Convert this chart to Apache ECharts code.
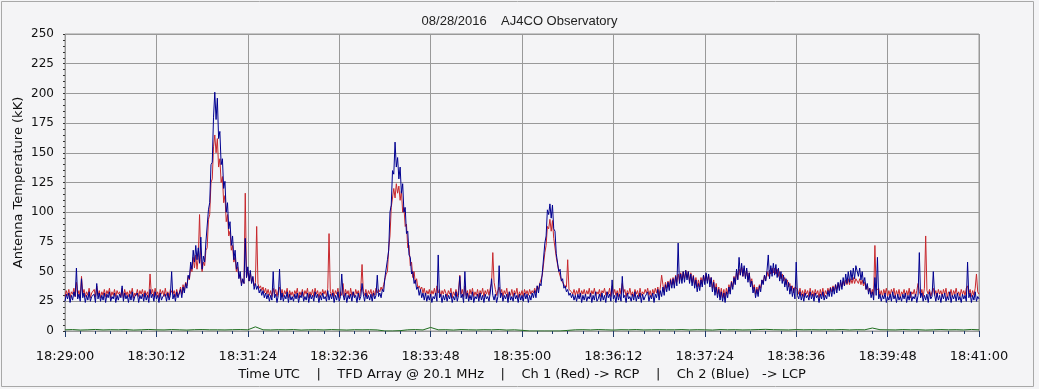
<!DOCTYPE html>
<html>
<head>
<meta charset="utf-8">
<script src="https://cdn.jsdelivr.net/npm/echarts@6/dist/echarts.min.js"></script>
<style>
html,body{margin:0;padding:0;background:#f4f4f6;}
#chart{width:1039px;height:389px;}
</style>
</head>
<body>
<div id="chart"></div>
<script>
// seconds after 18:29:00, one sample every 1 s (red/blue), every 6 s (green)
var sampleStep = 1;
var greenStep = 6;
var xTickLabels = ['18:29:00','18:30:12','18:31:24','18:32:36','18:33:48','18:35:00','18:36:12','18:37:24','18:38:36','18:39:48','18:41:00'];

var ch2Blue = [
25,31,27,32,24,30,26,33,29,53,27,31,25,44,28,32,24,30,26,33,25,29,28,31,24,40,27,32,25,30,
26,32,24,31,28,33,25,29,27,32,24,30,26,31,28,38,25,32,27,30,24,31,26,33,25,29,28,32,24,30,
27,31,25,32,26,30,24,35,28,31,25,33,27,30,24,32,26,29,28,31,25,32,26,30,50,27,31,25,33,28,
29,35,28,37,32,40,36,47,44,58,52,68,58,72,60,70,57,79,52,63,58,75,74,102,108,140,142,180,201,178,
196,162,168,140,145,120,126,100,108,86,92,72,80,60,68,52,58,44,50,38,44,40,78,45,54,42,51,40,46,35,
40,35,38,32,35,30,34,28,32,27,31,25,30,26,50,28,31,24,30,52,26,32,25,30,27,33,24,31,26,29,
25,31,27,32,24,30,28,33,25,29,26,32,24,31,27,30,25,33,28,31,24,30,26,32,27,29,25,34,26,31,
27,32,24,30,26,33,25,29,48,31,26,32,24,30,27,31,25,33,28,30,24,32,26,29,40,31,25,32,27,30,
26,31,25,32,27,30,47,29,32,28,35,33,45,46,60,68,100,106,135,132,159,138,146,128,138,116,124,100,104,82,
84,64,62,48,50,40,43,35,37,30,35,28,32,26,32,25,30,26,31,24,29,27,32,25,64,28,31,24,30,26,
31,25,30,27,32,24,29,26,33,25,30,46,28,31,24,50,27,32,25,30,26,33,24,29,27,31,25,32,26,30,
24,31,27,29,25,32,44,30,26,31,24,29,55,28,32,25,30,27,31,24,33,26,29,25,32,27,30,24,31,26,
30,25,32,27,31,24,30,26,32,28,34,28,38,32,40,38,49,50,74,80,102,98,107,95,106,86,84,65,66,50,
52,42,44,36,38,33,35,30,32,28,31,26,30,25,31,27,32,24,30,26,31,25,29,27,32,24,30,26,33,25,
27,31,25,32,26,30,24,33,28,31,25,43,27,30,24,32,26,31,25,46,28,30,24,32,27,29,25,31,26,33,
25,30,27,32,24,31,26,29,28,33,25,30,27,32,24,31,28,35,26,34,29,37,30,39,33,41,34,43,36,44,
36,46,38,74,40,48,40,50,41,51,43,50,40,48,38,46,36,43,33,40,34,43,37,47,39,49,40,48,37,45,
33,41,30,37,28,35,26,33,25,32,24,33,28,37,31,41,35,45,39,52,43,62,47,57,46,55,44,53,41,49,
37,42,32,37,28,35,29,38,33,43,39,47,42,51,64,44,55,46,57,47,56,45,53,42,50,40,47,37,44,34,
41,31,38,29,36,27,58,30,27,33,26,31,25,32,28,30,26,33,27,31,25,32,28,30,24,31,27,33,26,30,
27,34,29,36,29,37,31,39,32,41,34,43,35,45,38,48,40,50,41,51,43,53,44,55,56,46,53,43,50,40,
45,35,40,31,36,28,33,26,45,30,62,27,31,25,30,27,32,24,29,26,31,25,33,27,30,24,31,26,29,25,
31,27,32,24,30,26,33,25,29,27,31,24,30,66,28,32,25,30,26,31,24,33,27,29,50,31,25,32,26,30,
24,31,27,32,25,29,26,33,24,30,27,31,25,32,26,29,24,31,27,30,25,58,28,32,24,30,26,33,25,29,
27];

var ch1Red = [
29,34,30,35,28,33,31,36,29,41,30,34,28,46,31,35,29,33,30,36,28,32,31,35,29,38,30,34,28,33,
30,35,29,34,31,36,28,33,30,35,29,34,31,33,29,36,28,35,30,33,29,34,31,36,28,32,30,35,29,34,
31,35,29,34,30,33,28,48,31,35,29,36,30,33,28,35,31,34,29,36,30,33,28,35,36,31,34,29,35,30,
32,37,31,39,34,41,38,46,43,54,50,62,53,64,52,62,98,60,50,58,55,68,70,94,98,125,128,155,165,150,
162,138,145,125,130,108,114,92,98,80,84,68,72,58,62,50,54,45,47,40,43,40,116,45,51,42,49,41,45,38,
41,88,40,36,38,34,37,32,36,31,35,30,34,29,36,31,35,29,34,37,30,35,29,34,31,36,28,34,30,33,
29,34,31,36,28,33,30,35,29,34,31,36,28,33,30,35,29,36,31,34,28,33,30,35,31,34,29,36,82,33,
30,35,29,34,31,36,28,33,30,40,29,35,31,34,28,36,30,33,29,35,31,34,28,36,56,33,30,35,29,34,
31,35,29,34,30,36,32,35,33,37,34,39,40,48,50,70,80,104,104,120,112,124,116,122,110,118,100,104,88,90,
70,72,55,58,45,50,40,44,36,38,35,37,32,36,30,34,31,35,29,34,31,36,30,38,32,35,29,34,31,35,
35,29,34,31,36,28,33,30,35,29,34,47,31,35,29,38,30,34,28,35,31,36,29,33,30,35,28,34,31,36,
29,34,31,35,30,36,40,66,41,35,30,34,37,31,35,29,34,31,36,28,33,30,35,29,34,31,36,28,33,30,
34,29,35,31,34,30,35,31,34,32,36,32,38,35,40,39,47,48,66,72,88,86,94,84,93,78,78,62,61,50,
49,43,44,39,40,37,60,35,35,33,31,35,30,34,31,36,29,34,31,35,30,34,31,36,29,34,31,36,30,33,
31,35,29,34,32,36,30,33,31,36,29,38,31,35,30,34,29,36,31,40,32,35,29,34,31,36,30,33,29,35,
31,34,29,36,30,33,31,35,32,36,30,34,29,35,31,36,32,37,30,37,47,39,33,41,36,42,37,44,39,45,
39,47,41,48,42,49,43,50,44,51,45,50,42,49,41,47,39,45,37,43,37,45,40,47,42,48,42,47,40,45,
36,43,33,40,31,37,29,36,28,35,28,36,31,39,34,42,37,46,40,50,44,52,47,54,46,53,45,51,43,49,
40,44,35,39,31,37,32,39,36,43,40,47,43,50,46,51,48,53,49,53,48,52,46,50,44,48,42,45,39,43,
37,40,34,38,32,37,38,35,31,36,30,34,29,35,31,34,29,36,30,34,29,35,31,34,28,35,30,36,29,34,
31,36,32,37,33,38,34,39,35,40,36,41,37,42,38,43,39,44,39,44,40,45,40,44,45,40,44,39,43,38,
41,35,39,33,36,31,35,30,72,34,33,36,30,34,29,35,31,36,29,34,30,35,31,36,29,34,30,35,28,33,
31,35,29,34,30,36,28,33,31,35,29,34,40,33,30,35,29,36,80,34,31,35,29,33,36,30,34,29,35,31,
34,29,35,31,36,28,33,30,35,29,34,31,36,30,33,29,35,31,34,30,36,38,31,35,29,34,30,36,48,33,
31];

var ch3Green = [
1,1.2,0.8,1,1.3,0.9,1.1,1,1.2,0.8,1,1.3,1,0.9,1.2,1,0.8,1.1,1.2,1,
1,0.9,1.1,1.2,1,3.5,1,0.9,1.1,1,1.2,0.8,1,1.1,0.9,1.2,1,0.8,1.1,1,
1.1,0.9,0,0,0.3,1,1.2,0.9,3,1,1.1,0.8,1.2,1,0.9,1.1,1,1.2,0.8,1,
0.6,0,0,0,0,0,0.5,1,1.1,0.9,1.2,1,0.8,1.1,1,1.2,0.9,1,1.1,1,
1,1.2,0.9,1.1,1,0.8,1.2,1,1.1,0.9,1,1.2,1.4,1.1,1,0.9,1.2,1,1.1,1,
1.1,1,1.2,0.9,1.1,1,2.5,1.1,1,0.9,1.2,1,1.1,0.8,1,1.2,1,1.1,0.9,1.3,
1];

function pairs(arr, step){ return arr.map(function(v,i){ return [i*step, v]; }); }

var chart = echarts.init(document.getElementById('chart'));
var font = 'DejaVu Sans';
chart.setOption({
  animation: false,
  backgroundColor: '#f4f4f6',
  title: {
    text: '08/28/2016    AJ4CO Observatory',
    left: 'center', top: 10,
    textStyle: {fontFamily: 'Liberation Sans', fontSize: 13, fontWeight: 'normal', color: '#222'}
  },
  graphic: [{type:'rect', shape:{x:1.5,y:1.5,width:1032,height:385}, style:{fill:'none', stroke:'#a8a8a8', lineWidth:1}, silent:true}],
  grid: {left: 65, right: 60, top: 34, bottom: 58, show: true, borderColor: '#999', borderWidth: 1, backgroundColor: 'transparent'},
  xAxis: {
    type: 'value', min: 0, max: 720, interval: 72, offset: 5,
    name: 'Time UTC    |    TFD Array @ 20.1 MHz    |    Ch 1 (Red) -> RCP    |    Ch 2 (Blue)   -> LCP',
    nameLocation: 'middle', nameGap: 29,
    nameTextStyle: {fontFamily: font, fontSize: 13, color: '#111'},
    axisLine: {show: false},
    axisTick: {show: true, length: 6, lineStyle: {color: '#1f3a6b'}},
    minorTick: {show: true, splitNumber: 6, length: 3, lineStyle: {color: '#1f3a6b'}},
    splitLine: {show: true, lineStyle: {color: '#999', width: 1}},
    axisLabel: {margin: 14, fontFamily: font, fontSize: 13, color: '#111', showMinLabel: true, showMaxLabel: true,
      formatter: function(v){ return xTickLabels[Math.round(v/72)]; }}
  },
  yAxis: {
    type: 'value', min: 0, max: 250, interval: 25, offset: 5,
    name: 'Antenna Temperature (kK)', nameLocation: 'middle', nameGap: 35, nameMoveOverlap: false,
    nameTextStyle: {fontFamily: font, fontSize: 13, color: '#111'},
    axisLine: {show: false},
    axisTick: {show: true, length: 2, lineStyle: {color: '#333'}},
    minorTick: {show: true, splitNumber: 5, length: 2, lineStyle: {color: '#333'}},
    splitLine: {show: true, lineStyle: {color: '#999', width: 1}},
    axisLabel: {margin: 6, fontFamily: font, fontSize: 12, color: '#111'}
  },
  series: [
    {name: 'Ch 3', type: 'line', data: pairs(ch3Green, greenStep), showSymbol: false, z: 1,
     lineStyle: {color: '#1e6e1e', width: 1}},
    {name: 'Ch 1 (Red)', type: 'line', data: pairs(ch1Red, sampleStep), showSymbol: false, z: 2,
     lineStyle: {color: '#c8282d', width: 1}},
    {name: 'Ch 2 (Blue)', type: 'line', data: pairs(ch2Blue, sampleStep), showSymbol: false, z: 3,
     lineStyle: {color: '#000090', width: 1}}
  ]
});
</script>
</body>
</html>
